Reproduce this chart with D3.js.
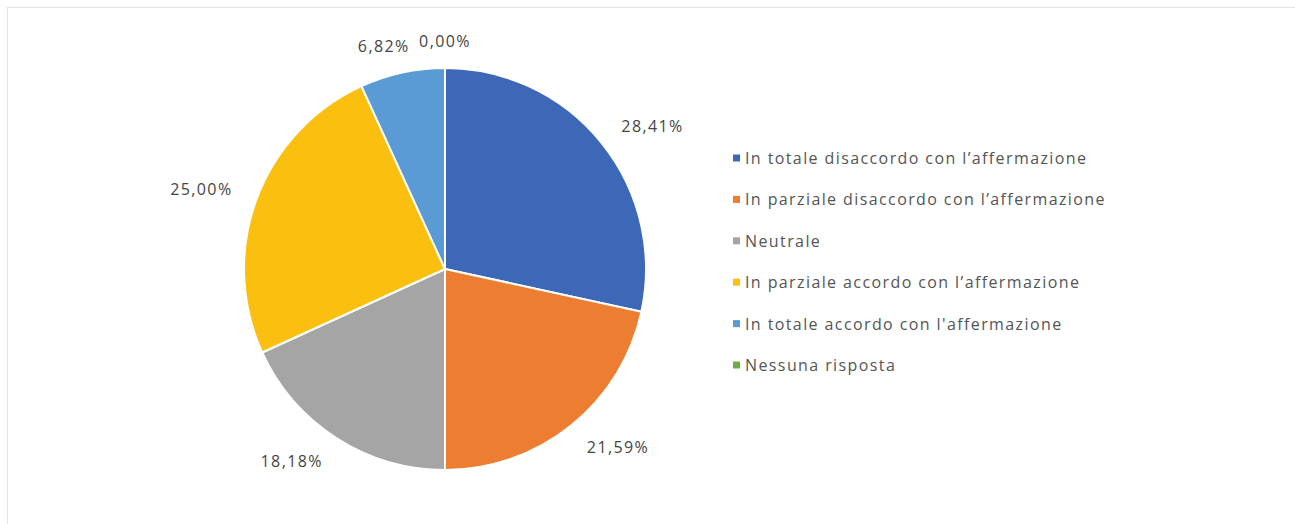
<!DOCTYPE html>
<html><head><meta charset="utf-8">
<script src="https://cdn.jsdelivr.net/npm/d3@7"></script>
<style>html,body{margin:0;padding:0;background:#fff;}svg{display:block;}</style>
</head><body>
<svg id="c" width="1295" height="524"></svg>
<script>
const categories = [
  "In totale disaccordo con l\u2019affermazione",
  "In parziale disaccordo con l\u2019affermazione",
  "Neutrale",
  "In parziale accordo con l\u2019affermazione",
  "In totale accordo con l'affermazione",
  "Nessuna risposta"
];
const values = [28.41, 21.59, 18.18, 25.00, 6.82, 0.00];
const labels = ["28,41%", "21,59%", "18,18%", "25,00%", "6,82%", "0,00%"];
const colors = ["#3d67b7", "#ed7d31", "#a5a5a5", "#fbbf10", "#5b9bd5", "#70ad47"];

const svg = d3.select("#c");
svg.append("rect").attr("x", 7.5).attr("y", 7.5).attr("width", 1300).attr("height", 530)
  .attr("fill", "#fff").attr("stroke", "#e4e4e4").attr("stroke-width", 1);

const cx = 445, cy = 269, r = 201;
const g = svg.append("g").attr("transform", `translate(${cx},${cy})`);
const pie = d3.pie().sort(null).value(d => d);
const arcs = pie(values);
const arc = d3.arc().innerRadius(0).outerRadius(r);
g.selectAll("path").data(arcs).join("path")
  .attr("d", arc).attr("fill", (d, i) => colors[i])
  .attr("stroke", "#fff").attr("stroke-width", 2).attr("stroke-linejoin", "round");

// outside-end labels: anchor point just beyond the rim, pushed out by half the label box
const lr = 228, halfW = 30;
const mid = d => (d.startAngle + d.endAngle) / 2;
g.selectAll("text.lbl").data(arcs).join("text").attr("class", "lbl")
  .attr("x", d => {
    const s = Math.sin(mid(d));
    return s * lr + Math.sign(s) * halfW * Math.min(1, Math.abs(s) / 0.5);
  })
  .attr("y", d => -Math.cos(mid(d)) * lr)
  .attr("text-anchor", "middle").attr("dominant-baseline", "central")
  .attr("font-family", "'Open Sans', 'Noto Sans', sans-serif").attr("font-size", 16)
  .attr("letter-spacing", 1.4)
  .attr("fill", "#444")
  .text((d, i) => labels[i]);

const leg = svg.append("g").attr("transform", "translate(733,158)");
const rowH = 41.4;
const items = leg.selectAll("g").data(categories).join("g")
  .attr("transform", (d, i) => `translate(0,${i * rowH})`);
items.append("rect").attr("x", 0).attr("y", -3.5).attr("width", 7).attr("height", 7)
  .attr("fill", (d, i) => colors[i]);
items.append("text").attr("x", 12).attr("y", 0).attr("dominant-baseline", "central")
  .attr("font-family", "'Open Sans', 'Noto Sans', sans-serif").attr("font-size", 16)
  .attr("letter-spacing", 1.4)
  .attr("fill", "#555").text(d => d);
</script>
</body></html>
